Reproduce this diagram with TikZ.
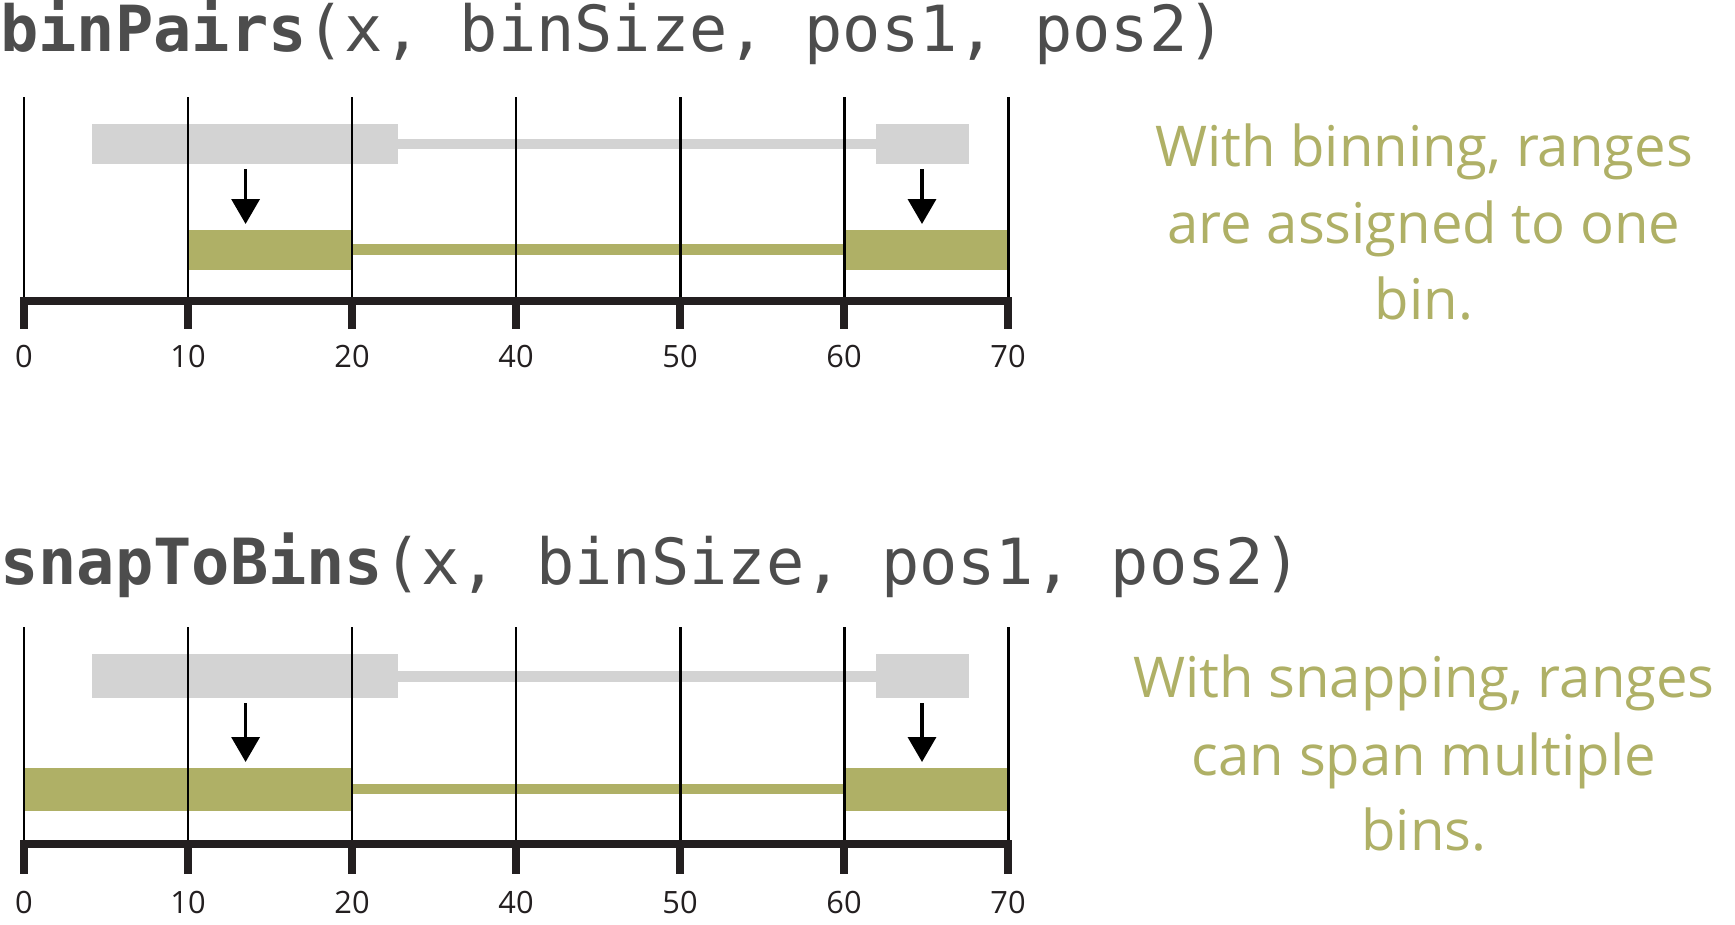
\documentclass[tikz,border=0pt]{standalone}
\usepackage{fontspec}
\setmainfont{Open Sans}
\setmonofont{DejaVu Sans Mono}
\usetikzlibrary{arrows.meta}

\definecolor{binGreen}{HTML}{AFB066}
\definecolor{rangeGray}{HTML}{D3D3D3}
\definecolor{axisDark}{HTML}{231F20}
\definecolor{titleGray}{HTML}{4D4D4D}

\tikzset{
  gridline/.style={black, line width=1.7pt},
  axisline/.style={axisDark, line width=4.5pt},
  tickmark/.style={axisDark, line width=4pt},
  ticklabel/.style={text=axisDark, font=\fontsize{17.5}{20}\selectfont, inner sep=0pt},
  grayrange/.style={fill=rangeGray, draw=none},
  greenrange/.style={fill=binGreen, draw=none},
  shiftarrow/.style={line width=2pt, -{Triangle[length=0.5cm, width=0.56cm]}},
  functitle/.style={text=titleGray, font=\ttfamily\fontsize{36.2}{40}\selectfont, inner sep=0pt, anchor=base west},
  note/.style={text=binGreen, font=\fontsize{32}{38}\selectfont, inner sep=0pt, anchor=base},
}

\begin{document}
\begin{tikzpicture}[x=0.02cm, y=-0.02cm]
  \useasboundingbox (0,0) rectangle (1735,924);
  % Function titles
  \node[functitle] (title1) at (0,51) {\textbf{binPairs}(x, binSize, pos1, pos2)};
  \node[functitle] (title2) at (0,584) {\textbf{snapToBins}(x, binSize, pos1, pos2)};
  % Ranges before binning
  \foreach \ya/\yb/\ma/\mb in {124/164/139/149, 654/698/671/682} {
    \fill[grayrange] (92,\ya) rectangle (398,\yb);
    \fill[grayrange] (398,\ma) rectangle (876,\mb);
    \fill[grayrange] (876,\ya) rectangle (969,\yb);
  }
  % Ranges after binning
  \fill[greenrange] (188,230) rectangle (352,270);
  \fill[greenrange] (352,244) rectangle (844,255);
  \fill[greenrange] (844,230) rectangle (1008,270);
  % Ranges after snapping
  \fill[greenrange] (24,768) rectangle (352,811);
  \fill[greenrange] (352,784) rectangle (844,794);
  \fill[greenrange] (844,768) rectangle (1008,811);
  % Grid lines, ticks and labels
  \foreach \i/\lab in {0/0,1/10,2/20,3/40,4/50,5/60,6/70} {
    \draw[gridline] (24+164*\i,97) -- (24+164*\i,301);
    \draw[gridline] (24+164*\i,627) -- (24+164*\i,844);
    \draw[tickmark] (24+164*\i,301) -- (24+164*\i,329);
    \draw[tickmark] (24+164*\i,844) -- (24+164*\i,874);
    \node[ticklabel] (ta\i) at (24+164*\i,356) {\lab};
    \node[ticklabel] (tb\i) at (24+164*\i,902) {\lab};
  }
  \draw[axisline] (20,301) -- (1012,301);
  \draw[axisline] (20,844) -- (1012,844);
  % Arrows from old to new range ends
  \foreach \n/\x/\ya/\yb in {1/245.6/169/224, 2/922/169/224, 3/245.6/703/762, 4/922/703/762} {
    \coordinate (s\n) at (\x,\ya);
    \coordinate (e\n) at (\x,\yb);
    \draw[shiftarrow] (s\n) -- (e\n);
  }
  % Notes
  \node[note] (n1a) at (1424,166) {With binning, ranges};
  \node[note] (n1b) at (1424,243) {are assigned to one};
  \node[note] (n1c) at (1424,319) {bin.};
  \node[note] (n2a) at (1424,697) {With snapping, ranges};
  \node[note] (n2b) at (1424,775) {can span multiple};
  \node[note] (n2c) at (1424,850) {bins.};
\end{tikzpicture}
\end{document}
